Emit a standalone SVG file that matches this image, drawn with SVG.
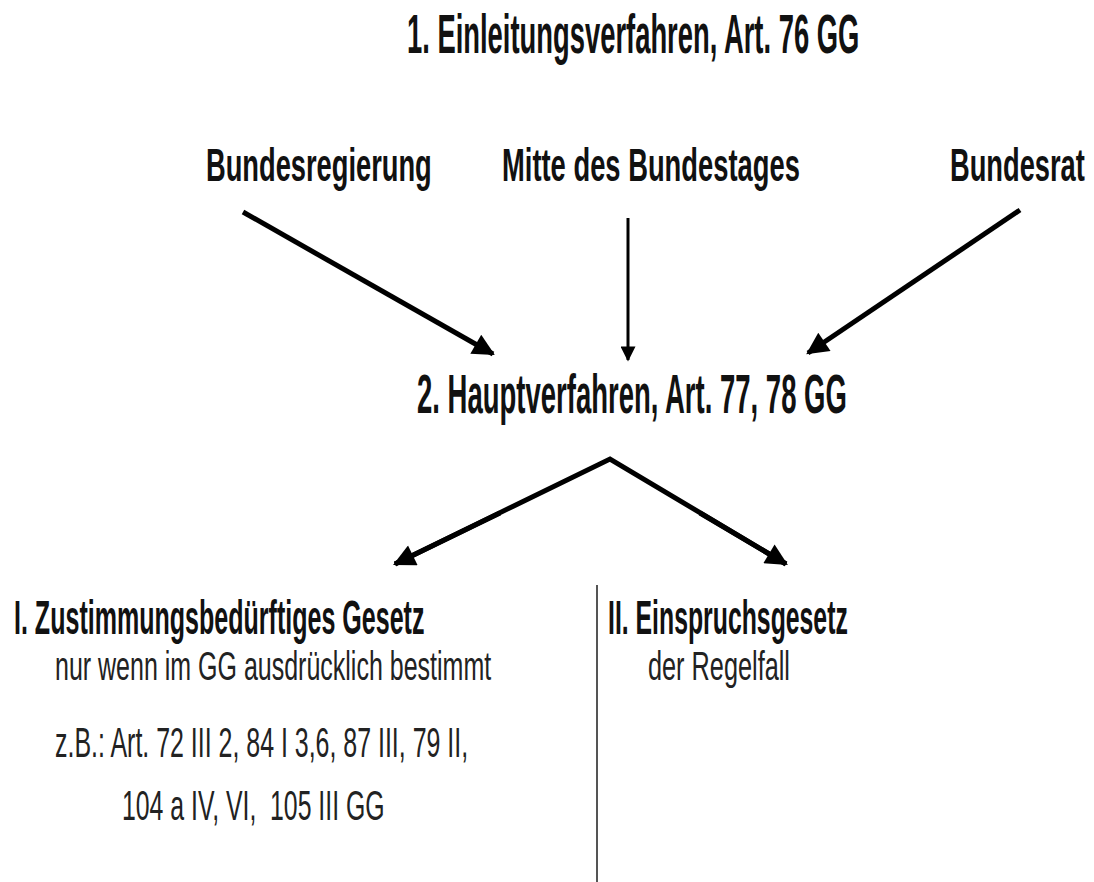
<svg xmlns="http://www.w3.org/2000/svg" width="1094" height="882" viewBox="0 0 1094 882">
<style>
.h{font-family:"Liberation Sans",Arial,sans-serif;font-weight:bold;fill:#111;}
.n{font-family:"Liberation Sans",Arial,sans-serif;fill:#222;white-space:pre;}
.c{stroke:#000;fill:none;}
</style>
<defs>
<marker id="ah" viewBox="0 0 10 10" refX="9" refY="5" markerWidth="5" markerHeight="4.4" markerUnits="strokeWidth" orient="auto">
<path d="M0,0 L10,5 L0,10 z" fill="#000"/>
</marker>
<marker id="ah2" viewBox="0 0 10 10" refX="9" refY="5" markerWidth="8" markerHeight="5" markerUnits="strokeWidth" orient="auto">
<path d="M0,0 L10,5 L0,10 z" fill="#000"/>
</marker>
</defs>
<rect width="1094" height="882" fill="#fff"/>
<g id="n-einleitung"><text class="h" transform="translate(407,53) scale(0.489,1)" font-size="56">1. Einleitungsverfahren, Art. 76 GG</text></g>
<g id="n-bundesregierung"><text class="h" transform="translate(206,181) scale(0.593,1)" font-size="46">Bundesregierung</text></g>
<g id="n-mitte"><text class="h" transform="translate(502,181) scale(0.595,1)" font-size="46">Mitte des Bundestages</text></g>
<g id="n-bundesrat"><text class="h" transform="translate(950,181) scale(0.593,1)" font-size="46">Bundesrat</text></g>
<g id="n-haupt"><text class="h" transform="translate(417,413) scale(0.491,1)" font-size="56">2. Hauptverfahren, Art. 77, 78 GG</text></g>
<g id="n-zustimmung">
<text class="h" transform="translate(14,634) scale(0.522,1)" font-size="48">I. Zustimmungsbedürftiges Gesetz</text>
<text class="n" transform="translate(55,680) scale(0.61,1)" font-size="41">nur wenn im GG ausdrücklich bestimmt</text>
<text class="n" transform="translate(55,757) scale(0.594,1)" font-size="42">z.B.: Art. 72 III 2, 84 I 3,6, 87 III, 79 II,</text>
<text class="n" transform="translate(122,820) scale(0.591,1)" font-size="42">104 a IV, VI,  105 III GG</text>
</g>
<g id="n-einspruch">
<text class="h" transform="translate(608,634) scale(0.517,1)" font-size="48">II. Einspruchsgesetz</text>
<text class="n" transform="translate(648,680) scale(0.617,1)" font-size="41">der Regelfall</text>
</g>
<g id="connectors">
<line class="c" x1="243" y1="212" x2="493" y2="354" stroke-width="5" marker-end="url(#ah)"/>
<line class="c" x1="628" y1="218" x2="628" y2="360" stroke-width="3" marker-end="url(#ah2)"/>
<line class="c" x1="1020" y1="210" x2="808" y2="353" stroke-width="5" marker-end="url(#ah)"/>
<polyline class="c" points="395,564 610,459 786,564" stroke-width="5"/>
<line class="c" x1="500" y1="513" x2="395" y2="564" stroke-width="5" marker-end="url(#ah)"/>
<line class="c" x1="700" y1="513" x2="786" y2="564" stroke-width="5" marker-end="url(#ah)"/>
<line x1="597" y1="585" x2="597" y2="882" stroke="#555" stroke-width="2"/>
</g>
</svg>
